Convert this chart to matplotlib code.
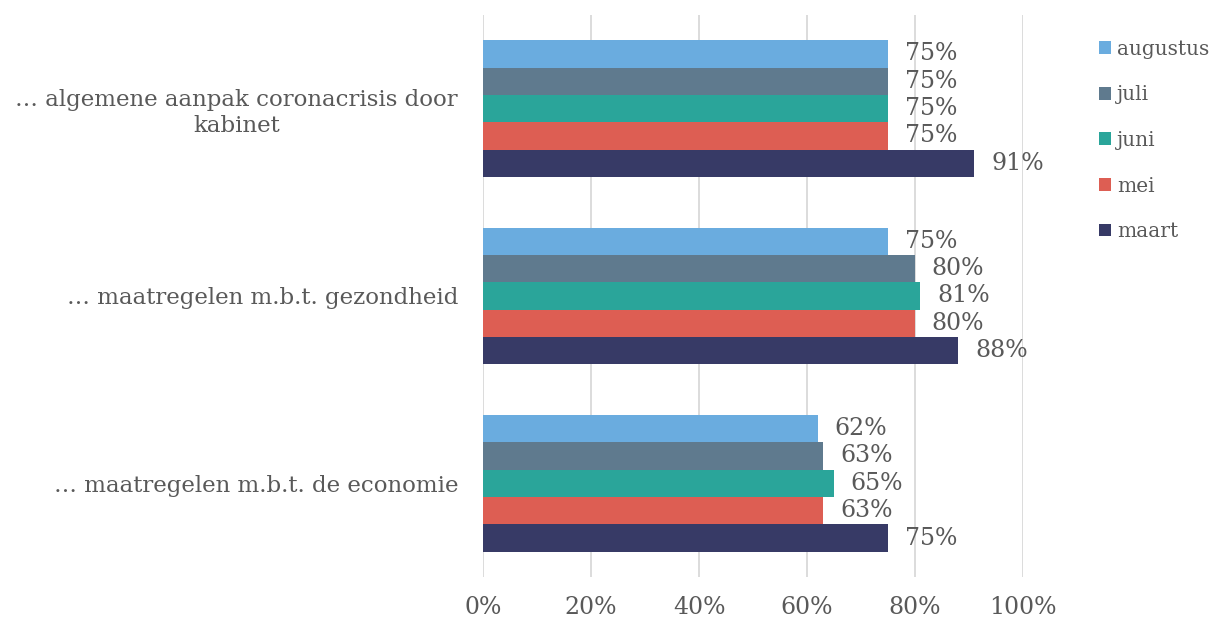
import matplotlib.pyplot as plt
import numpy as np

plt.rcParams['font.family'] = ['DejaVu Serif']

categories = ["… maatregelen m.b.t. de economie",
              "… maatregelen m.b.t. gezondheid",
              "… algemene aanpak coronacrisis door\nkabinet"]
months = ["maart", "mei", "juni", "juli", "augustus"]
values = {
    "maart":    [75, 88, 91],
    "mei":      [63, 80, 75],
    "juni":     [65, 81, 75],
    "juli":     [63, 80, 75],
    "augustus": [62, 75, 75],
}
colors = {
    "maart": "#373A66",
    "mei": "#DD5E53",
    "juni": "#2AA59A",
    "juli": "#5F7A8E",
    "augustus": "#6AACDF",
}
xticks = [0, 20, 40, 60, 80, 100]

txt = "#595959"
fig = plt.figure(figsize=(12.1, 6.19), dpi=100)
ax = fig.add_axes([0.3992, 0.0679, 0.4463, 0.9079])

y = np.arange(len(categories))
h = 0.146
for i, m in enumerate(months):
    pos = y - 2 * h + i * h
    ax.barh(pos, values[m], height=h, color=colors[m], label=m, zorder=3)
    for p, v in zip(pos, values[m]):
        ax.text(v + 3.1, p, f"{v}%", va="center", ha="left",
                fontsize=17, color=txt, zorder=4)

ax.set_xlim(0, 100)
ax.set_ylim(-0.5, 2.5)
ax.set_xticks(xticks)
ax.set_xticklabels([f"{t}%" for t in xticks])
ax.set_yticks(y)
ax.set_yticklabels(categories, ha="right", multialignment="center")
ax.tick_params(axis="y", length=0, pad=18, labelsize=16.5, labelcolor=txt)
ax.tick_params(axis="x", length=0, pad=14, labelsize=17, labelcolor=txt)
ax.grid(axis="x", color="#D9D9D9", linewidth=1.3, zorder=0)
for s in ax.spines.values():
    s.set_visible(False)

handles, labels = ax.get_legend_handles_labels()
fig.legend(handles[::-1], labels[::-1], loc="upper left",
           bbox_to_anchor=(0.893, 0.965), frameon=False,
           fontsize=14.5, labelcolor=txt, handlelength=0.6, handleheight=0.6,
           handletextpad=0.3, labelspacing=1.32)

fig.savefig("out.png", dpi=100)
